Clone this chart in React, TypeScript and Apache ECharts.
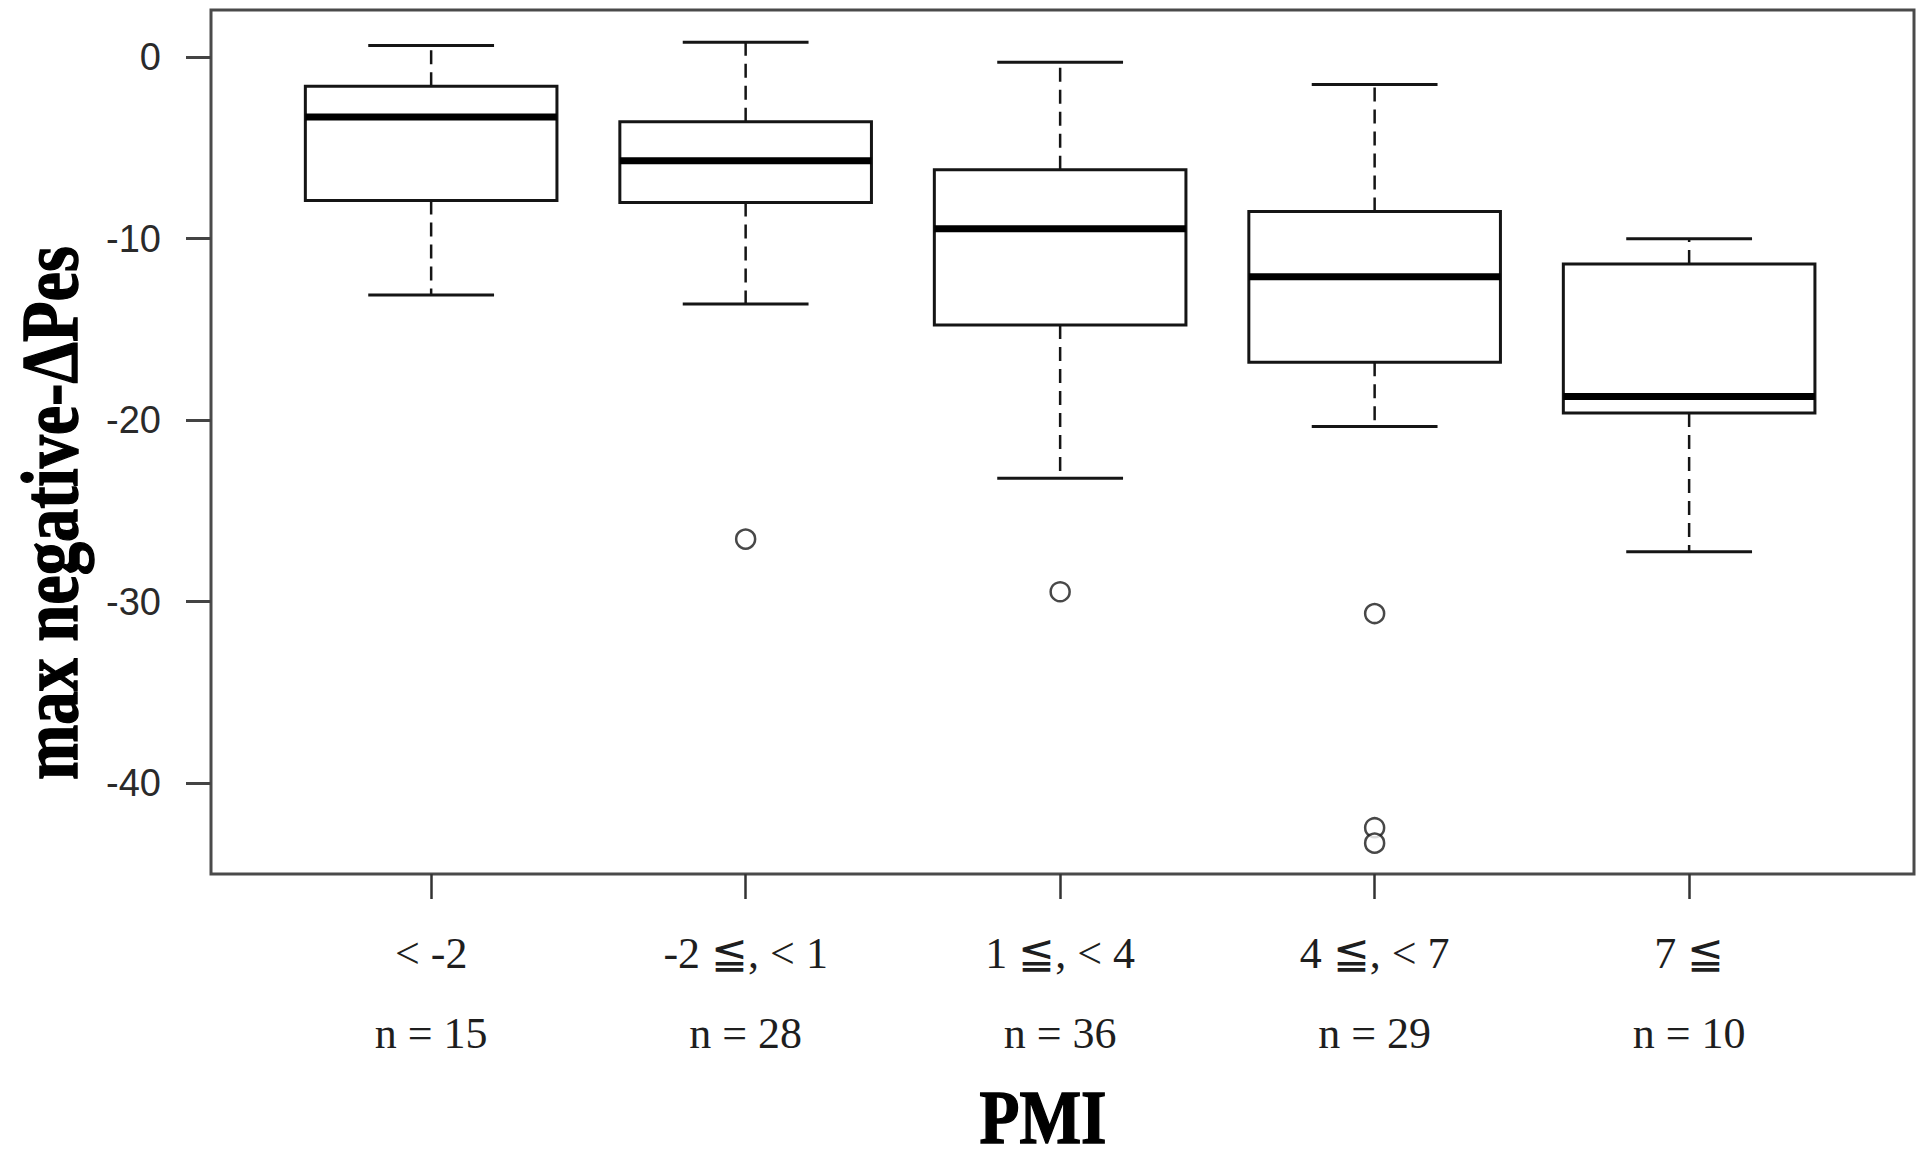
import React, { useEffect, useRef } from "react";
import * as echarts from "echarts";

const categories = ["< -2", "-2 ≦, < 1", "1 ≦, < 4", "4 ≦, < 7", "7 ≦"];
const counts = [15, 28, 36, 29, 10];
const whiskerLow = [-13.1, -13.6, -23.2, -20.35, -27.25];
const q1 = [-7.9, -8.0, -14.75, -16.8, -19.6];
const median = [-3.3, -5.7, -9.45, -12.1, -18.7];
const q3 = [-1.6, -3.55, -6.2, -8.5, -11.4];
const whiskerHigh = [0.65, 0.82, -0.28, -1.5, -10.0];
const outliers: [number, number][] = [
  [2, -26.55],
  [3, -29.45],
  [4, -30.65],
  [4, -42.45],
  [4, -43.3],
];
const yTicks = [0, -10, -20, -30, -40];
const xTicks = [1, 2, 3, 4, 5];

export default function App() {
  const ref = useRef<HTMLDivElement>(null);
  useEffect(() => {
    if (!ref.current) return;
    const chart = echarts.init(ref.current, null, { renderer: "svg" });
    const boxData = categories.map((_, i) => [
      i + 1,
      whiskerLow[i],
      q1[i],
      median[i],
      q3[i],
      whiskerHigh[i],
    ]);
    const lineColor = "#151515";
    const option: any = {
      animation: false,
      backgroundColor: "#ffffff",
      grid: {
        left: 211,
        right: 6,
        top: 10,
        bottom: 286,
        show: true,
        borderColor: "#4a4a4a",
        borderWidth: 3,
        backgroundColor: "transparent",
        containLabel: false,
        outerBoundsMode: "none",
      },
      xAxis: {
        type: "value",
        min: 0.3,
        max: 5.715,
        splitLine: { show: false },
        axisLine: { show: false, onZero: false },
        axisTick: {
          show: true,
          customValues: xTicks,
          length: 25,
          lineStyle: { color: "#333", width: 2.5 },
        },
        axisLabel: {
          customValues: xTicks,
          margin: 39,
          formatter: (v: number) => {
            const i = Math.round(v) - 1;
            return `{a|${categories[i]}}\n{b|n = ${counts[i]}}`;
          },
          rich: {
            a: {
              fontFamily: '"Liberation Serif", serif',
              fontSize: 44,
              lineHeight: 80,
              color: "#1e1e1e",
            },
            b: {
              fontFamily: '"Liberation Serif", serif',
              fontSize: 44,
              lineHeight: 80,
              color: "#1e1e1e",
            },
          },
        },
      },
      yAxis: {
        type: "value",
        min: -45,
        max: 2.6,
        splitLine: { show: false },
        axisLine: { show: false, onZero: false },
        axisTick: {
          show: true,
          customValues: yTicks,
          length: 25,
          lineStyle: { color: "#444", width: 3 },
        },
        axisLabel: {
          customValues: yTicks,
          margin: 50,
          fontFamily: '"Liberation Sans", Arial, sans-serif',
          fontSize: 38,
          color: "#2a2a2a",
        },
      },
      graphic: [
        {
          type: "text",
          x: 50,
          y: 513,
          rotation: Math.PI / 2,
          scaleX: 0.83,
          style: {
            text: "max negative-ΔPes",
            fontFamily: '"Liberation Serif", serif',
            fontWeight: "bold",
            fontSize: 80,
            fill: "#000",
            stroke: "#000",
            lineWidth: 1.5,
            align: "center",
            verticalAlign: "middle",
          },
        },
        {
          type: "text",
          x: 1043,
          y: 1117,
          scaleX: 0.86,
          style: {
            text: "PMI",
            fontFamily: '"Liberation Serif", serif',
            fontWeight: "bold",
            fontSize: 76,
            fill: "#000",
            stroke: "#000",
            lineWidth: 1.5,
            align: "center",
            verticalAlign: "middle",
          },
        },
      ],
      series: [
        {
          type: "custom",
          data: boxData,
          encode: { x: 0, y: [1, 2, 3, 4, 5] },
          renderItem: (params: any, api: any) => {
            const x = api.value(0);
            const pLow = api.coord([x, api.value(1)]);
            const pQ1 = api.coord([x, api.value(2)]);
            const pMed = api.coord([x, api.value(3)]);
            const pQ3 = api.coord([x, api.value(4)]);
            const pHigh = api.coord([x, api.value(5)]);
            const bw = api.size([0.8, 0])[0];
            const cw = bw / 2;
            const cx = pMed[0];
            const solid = { stroke: lineColor, lineWidth: 3, fill: "none" };
            const dashed = {
              stroke: lineColor,
              lineWidth: 2.5,
              lineDash: [14, 8],
              fill: "none",
            };
            return {
              type: "group",
              children: [
                {
                  type: "line",
                  shape: { x1: cx, y1: pQ3[1], x2: cx, y2: pHigh[1] },
                  style: dashed,
                },
                {
                  type: "line",
                  shape: { x1: cx, y1: pQ1[1], x2: cx, y2: pLow[1] },
                  style: dashed,
                },
                {
                  type: "line",
                  shape: {
                    x1: cx - cw / 2,
                    y1: pHigh[1],
                    x2: cx + cw / 2,
                    y2: pHigh[1],
                  },
                  style: solid,
                },
                {
                  type: "line",
                  shape: {
                    x1: cx - cw / 2,
                    y1: pLow[1],
                    x2: cx + cw / 2,
                    y2: pLow[1],
                  },
                  style: solid,
                },
                {
                  type: "rect",
                  shape: {
                    x: cx - bw / 2,
                    y: pQ3[1],
                    width: bw,
                    height: pQ1[1] - pQ3[1],
                  },
                  style: { stroke: lineColor, lineWidth: 3, fill: "#fff" },
                },
                {
                  type: "line",
                  shape: {
                    x1: cx - bw / 2,
                    y1: pMed[1],
                    x2: cx + bw / 2,
                    y2: pMed[1],
                  },
                  style: { stroke: "#000", lineWidth: 7 },
                },
              ],
            };
          },
        },
        {
          type: "scatter",
          data: outliers,
          symbol: "circle",
          symbolSize: 19,
          itemStyle: {
            color: "#fff",
            borderColor: "#1a1a1a",
            borderWidth: 2.5,
          },
        },
      ],
    };
    chart.setOption(option);
    return () => chart.dispose();
  }, []);
  return (
    <div
      ref={ref}
      style={{ position: "absolute", left: 0, top: 0, width: 1920, height: 1160 }}
    />
  );
}
